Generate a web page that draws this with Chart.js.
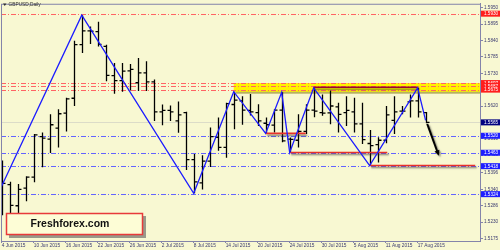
<!DOCTYPE html>
<html>
<head>
<meta charset="utf-8">
<script src="https://cdn.jsdelivr.net/npm/chart.js@4.4.0/dist/chart.umd.min.js"></script>
<style>
	html, body { margin: 0; padding: 0; background: #f8f8d2; }
	canvas { display: block; }
</style>
</head>
<body>
<canvas id="grafico" width="500" height="250"></canvas>
<script>
// **DATOS**
const fechas = [
	'4 Jun', '5 Jun', '8 Jun', '9 Jun', '10 Jun', '11 Jun', '12 Jun', '15 Jun', '16 Jun', '17 Jun',
	'18 Jun', '19 Jun', '22 Jun', '23 Jun', '24 Jun', '25 Jun', '26 Jun', '29 Jun', '30 Jun',
	'1 Jul', '2 Jul', '3 Jul', '6 Jul', '7 Jul', '8 Jul', '9 Jul', '10 Jul', '13 Jul', '14 Jul',
	'15 Jul', '16 Jul', '17 Jul', '20 Jul', '21 Jul', '22 Jul', '23 Jul', '24 Jul', '27 Jul',
	'28 Jul', '29 Jul', '30 Jul', '31 Jul', '3 Aug', '4 Aug', '5 Aug', '6 Aug', '7 Aug',
	'10 Aug', '11 Aug', '12 Aug', '13 Aug', '14 Aug', '17 Aug', '18 Aug'
];
const aperturas = [
	1.5337, 1.5356, 1.5285, 1.5344, 1.5381, 1.5517, 1.5509, 1.5546, 1.5596, 1.5646,
	1.5826, 1.5872, 1.5870, 1.5820, 1.5722, 1.5705, 1.5738, 1.5698, 1.5731,
	1.5701, 1.5600, 1.5605, 1.5570, 1.5598, 1.5440, 1.5362, 1.5435, 1.5515, 1.5481,
	1.5625, 1.5637, 1.5605, 1.5598, 1.5562, 1.5556, 1.5606, 1.5509, 1.5505,
	1.5535, 1.5606, 1.5598, 1.5597, 1.5617, 1.5598, 1.5600, 1.5560, 1.5494,
	1.5490, 1.5505, 1.5572, 1.5603, 1.5634, 1.5637, 1.5598
];
const maximos = [
	1.5437, 1.5366, 1.5358, 1.5384, 1.5526, 1.5531, 1.5592, 1.5609, 1.5648, 1.5839,
	1.5925, 1.5887, 1.5903, 1.5826, 1.5764, 1.5764, 1.5761, 1.5781, 1.5770,
	1.5709, 1.5625, 1.5622, 1.5635, 1.5601, 1.5459, 1.5455, 1.5548, 1.5581, 1.5631,
	1.5668, 1.5653, 1.5660, 1.5626, 1.5581, 1.5609, 1.5666, 1.5514, 1.5592,
	1.5626, 1.5681, 1.5659, 1.5672, 1.5631, 1.5653, 1.5648, 1.5631, 1.5539,
	1.5515, 1.5620, 1.5653, 1.5620, 1.5659, 1.5681, 1.5600
];
const minimos = [
	1.5253, 1.5255, 1.5250, 1.5300, 1.5364, 1.5414, 1.5462, 1.5481, 1.5534, 1.5620,
	1.5798, 1.5828, 1.5820, 1.5703, 1.5661, 1.5668, 1.5672, 1.5670, 1.5670,
	1.5570, 1.5555, 1.5570, 1.5530, 1.5405, 1.5327, 1.5340, 1.5415, 1.5470, 1.5446,
	1.5542, 1.5557, 1.5588, 1.5553, 1.5528, 1.5531, 1.5498, 1.5464, 1.5481,
	1.5526, 1.5582, 1.5587, 1.5559, 1.5531, 1.5553, 1.5531, 1.5492, 1.5420,
	1.5430, 1.5495, 1.5526, 1.5592, 1.5581, 1.5581, 1.5562
];
const cierres = [
	1.5360, 1.5286, 1.5340, 1.5381, 1.5523, 1.5512, 1.5557, 1.5594, 1.5644, 1.5826,
	1.5872, 1.5871, 1.5827, 1.5723, 1.5705, 1.5737, 1.5743, 1.5731, 1.5701,
	1.5600, 1.5605, 1.5600, 1.5590, 1.5440, 1.5365, 1.5435, 1.5517, 1.5481, 1.5628,
	1.5640, 1.5606, 1.5600, 1.5570, 1.5557, 1.5606, 1.5503, 1.5508, 1.5535,
	1.5606, 1.5603, 1.5596, 1.5620, 1.5592, 1.5605, 1.5560, 1.5507, 1.5487,
	1.5505, 1.5590, 1.5600, 1.5603, 1.5637, 1.5600, 1.5565
];

// ZigZag (índice de barra y precio)
const zigzagBarras = [-3, 10, 24, 29, 33, 35, 36, 39, 46, 52, 53];
const zigzagPrecios = [1.5180, 1.5925, 1.5327, 1.5668, 1.5528, 1.5666, 1.5464, 1.5681, 1.5420, 1.5681, 1.5572];

// Niveles horizontales
const nivelesRojos = [1.5930, 1.5697, 1.5687, 1.5675];
const nivelesAzules = [1.5520, 1.5463, 1.5418, 1.5324];
const precioActual = 1.5565;

// Zona amarilla de resistencia: [barra inicial, precio bajo, precio alto]
const zonaResistencia = [29, 1.5668, 1.5697];
// Segmentos dibujados: [barra inicio, barra fin, precio]
const lineaTechos = [39, 52, 1.5683];
const soportes = [
	[33, 38, 1.5528],
	[36, 48.2, 1.5464],
	[46, 59.2, 1.5420]
];
// Flecha de pronóstico: [barra, precio] inicio y fin
const flechaInicio = [53.2, 1.5560];
const flechaFin = [54.65, 1.5453];

// Ejes
const ticksY = [1.5950, 1.5895, 1.5840, 1.5785, 1.5730, 1.5675, 1.5620, 1.5565, 1.5510, 1.5455, 1.5396, 1.5340, 1.5286, 1.5230, 1.5175];
const ticksX = [0, 4, 8, 12, 16, 20, 24, 28, 32, 36, 40, 44, 48, 52];

const FUENTE = "'Liberation Sans', Arial, sans-serif";
const PUNTO_RAYA = [5, 2, 1, 2];

// **UTILIDADES**
function lineaH(ctx, x1, x2, py) {
	ctx.beginPath();
	ctx.moveTo(x1, py);
	ctx.lineTo(x2, py);
	ctx.stroke();
}

function etiquetaPrecio(chart, valor, fondo) {
	const { ctx, chartArea, scales: { y } } = chart;
	const py = y.getPixelForValue(valor);
	ctx.fillStyle = fondo;
	ctx.fillRect(chartArea.right + 1, py - 3, chart.width - chartArea.right - 1, 6);
	ctx.fillStyle = '#ffffff';
	ctx.font = '4.6px ' + FUENTE;
	ctx.textBaseline = 'middle';
	ctx.textAlign = 'left';
	ctx.fillText(valor.toFixed(4), chartArea.right + 4, py + 0.3);
}

// **PLUGINS**
const pluginFondo = {
	id: 'fondo',
	beforeDraw(chart) {
		const { ctx } = chart;
		ctx.save();
		ctx.fillStyle = '#f8f8d2';
		ctx.fillRect(0, 0, chart.width, chart.height);
		ctx.restore();
	}
};

const pluginNiveles = {
	id: 'niveles',
	beforeDatasetsDraw(chart) {
		const { ctx, chartArea, scales: { x, y } } = chart;
		ctx.save();
		ctx.beginPath();
		ctx.rect(chartArea.left, chartArea.top, chartArea.width, chartArea.height);
		ctx.clip();

		// zona amarilla con sombra
		const zx = x.getPixelForValue(zonaResistencia[0]);
		const zTop = y.getPixelForValue(zonaResistencia[2]);
		const zBot = y.getPixelForValue(zonaResistencia[1]);
		ctx.fillStyle = '#b8b060';
		ctx.fillRect(zx + 2, zTop + 2, chartArea.right - zx, zBot - zTop);
		ctx.fillStyle = '#fff200';
		ctx.fillRect(zx, zTop, chartArea.right - zx, zBot - zTop);

		// precio actual
		ctx.strokeStyle = '#dcdcc8';
		ctx.lineWidth = 1;
		lineaH(ctx, chartArea.left, chartArea.right, Math.round(y.getPixelForValue(precioActual)) + 0.5);

		// niveles punto-raya
		ctx.setLineDash(PUNTO_RAYA);
		ctx.strokeStyle = '#ff6464';
		nivelesRojos.forEach(v => lineaH(ctx, chartArea.left, chartArea.right, Math.round(y.getPixelForValue(v)) + 0.5));
		ctx.strokeStyle = '#6464ff';
		nivelesAzules.forEach(v => lineaH(ctx, chartArea.left, chartArea.right, Math.round(y.getPixelForValue(v)) + 0.5));
		ctx.setLineDash([]);

		// barras OHLC
		ctx.strokeStyle = '#000000';
		ctx.lineWidth = 1.3;
		for (let i = 0; i < cierres.length; i++) {
			const px = Math.round(x.getPixelForValue(i)) + 0.5;
			const pa = y.getPixelForValue(aperturas[i]);
			const pc = y.getPixelForValue(cierres[i]);
			ctx.beginPath();
			ctx.moveTo(px, y.getPixelForValue(maximos[i]));
			ctx.lineTo(px, y.getPixelForValue(minimos[i]));
			ctx.moveTo(px - 3, pa);
			ctx.lineTo(px, pa);
			ctx.moveTo(px, pc);
			ctx.lineTo(px + 3, pc);
			ctx.stroke();
		}

		// segmentos con sombra
		ctx.shadowColor = 'rgba(40, 40, 40, 0.55)';
		ctx.shadowOffsetX = 1.5;
		ctx.shadowOffsetY = 2;
		ctx.shadowBlur = 1.5;
		ctx.lineWidth = 1.6;
		ctx.strokeStyle = '#9a0a2a';
		lineaH(ctx, x.getPixelForValue(lineaTechos[0]), x.getPixelForValue(lineaTechos[1]), y.getPixelForValue(lineaTechos[2]));
		ctx.strokeStyle = '#e8322a';
		soportes.forEach(s => lineaH(ctx, x.getPixelForValue(s[0]), x.getPixelForValue(s[1]), y.getPixelForValue(s[2])));
		ctx.restore();
	},
	afterDatasetsDraw(chart) {
		const { ctx, chartArea, scales: { x, y } } = chart;
		ctx.save();
		ctx.beginPath();
		ctx.rect(chartArea.left, chartArea.top, chartArea.width, chartArea.height);
		ctx.clip();
		const x1 = x.getPixelForValue(flechaInicio[0]);
		const y1 = y.getPixelForValue(flechaInicio[1]);
		const x2 = x.getPixelForValue(flechaFin[0]);
		const y2 = y.getPixelForValue(flechaFin[1]);
		const ang = Math.atan2(y2 - y1, x2 - x1);
		ctx.shadowColor = 'rgba(40, 40, 40, 0.5)';
		ctx.shadowOffsetX = 1.5;
		ctx.shadowOffsetY = 1.5;
		ctx.shadowBlur = 1.5;
		ctx.strokeStyle = '#000000';
		ctx.fillStyle = '#000000';
		ctx.lineWidth = 2;
		ctx.beginPath();
		ctx.moveTo(x1, y1);
		ctx.lineTo(x2 - 4 * Math.cos(ang), y2 - 4 * Math.sin(ang));
		ctx.stroke();
		ctx.beginPath();
		ctx.moveTo(x2, y2);
		ctx.lineTo(x2 - 6 * Math.cos(ang - 0.45), y2 - 6 * Math.sin(ang - 0.45));
		ctx.lineTo(x2 - 6 * Math.cos(ang + 0.45), y2 - 6 * Math.sin(ang + 0.45));
		ctx.closePath();
		ctx.fill();
		ctx.restore();
	},
	afterDraw(chart) {
		const { ctx, chartArea } = chart;
		ctx.save();
		// marco
		ctx.strokeStyle = '#8484aa';
		ctx.lineWidth = 1;
		ctx.strokeRect(chartArea.left + 0.5, chartArea.top + 0.5, chartArea.width, chartArea.height);

		// etiquetas de precio
		nivelesRojos.forEach(v => etiquetaPrecio(chart, v, '#ff1e1e'));
		nivelesAzules.forEach(v => etiquetaPrecio(chart, v, '#1e1eff'));
		etiquetaPrecio(chart, precioActual, '#000080');

		// título
		ctx.fillStyle = '#303030';
		ctx.beginPath();
		ctx.moveTo(3, 3.5);
		ctx.lineTo(6.5, 3.5);
		ctx.lineTo(4.75, 6);
		ctx.closePath();
		ctx.fill();
		ctx.font = '4.8px ' + FUENTE;
		ctx.textBaseline = 'middle';
		ctx.textAlign = 'left';
		ctx.fillText('GBPUSD,Daily', 8.5, 5);

		// logotipo
		ctx.fillStyle = 'rgba(90, 90, 90, 0.6)';
		ctx.fillRect(9, 216, 137, 22);
		ctx.fillStyle = '#fdfdd6';
		ctx.fillRect(6, 213, 137, 22);
		ctx.strokeStyle = '#e83a3a';
		ctx.lineWidth = 1.5;
		ctx.strokeRect(6.5, 213.5, 136, 21);
		ctx.fillStyle = '#111111';
		ctx.font = 'bold 10.5px ' + FUENTE;
		ctx.textAlign = 'center';
		ctx.fillText('Freshforex.com', 70, 224.5);
		ctx.restore();
	}
};

// **GRÁFICO**
function crearGrafico() {
	new Chart(document.getElementById('grafico'), {
		type: 'line',
		data: {
			datasets: [{
				data: zigzagBarras.map((b, i) => ({ x: b, y: zigzagPrecios[i] })),
				borderColor: '#1c1cff',
				borderWidth: 1.3,
				pointRadius: 0,
				tension: 0,
			}],
		},
		options: {
			responsive: false,
			animation: false,
			devicePixelRatio: 1,
			layout: { padding: { left: 1, top: 2, right: 0, bottom: 0 } },
			plugins: { legend: { display: false }, tooltip: { enabled: false } },
			scales: {
				x: {
					type: 'linear',
					min: -0.1,
					max: 59.8,
					afterBuildTicks: s => { s.ticks = ticksX.map(v => ({ value: v })); },
					afterFit: s => { s.height = 9; },
					grid: { drawOnChartArea: false, tickLength: 2, color: '#8484aa' },
					border: { color: '#8484aa' },
					ticks: {
						autoSkip: false,
						maxRotation: 0,
						align: 'start',
						padding: 0,
						color: '#3a3a70',
						font: { size: 4.8, family: FUENTE },
						callback: v => fechas[v] + ' 2015',
					},
				},
				y: {
					position: 'right',
					min: 1.51667,
					max: 1.59633,
					afterBuildTicks: s => { s.ticks = ticksY.map(v => ({ value: v })); },
					afterFit: s => { s.width = 20; },
					grid: { drawOnChartArea: false, tickLength: 3, color: '#8484aa' },
					border: { color: '#8484aa' },
					ticks: {
						autoSkip: false,
						padding: 1,
						color: '#3a3a70',
						font: { size: 4.6, family: FUENTE },
						callback: v => v.toFixed(4),
					},
				},
			},
		},
		plugins: [pluginFondo, pluginNiveles],
	});
}

document.addEventListener('DOMContentLoaded', crearGrafico);
</script>
</body>
</html>
